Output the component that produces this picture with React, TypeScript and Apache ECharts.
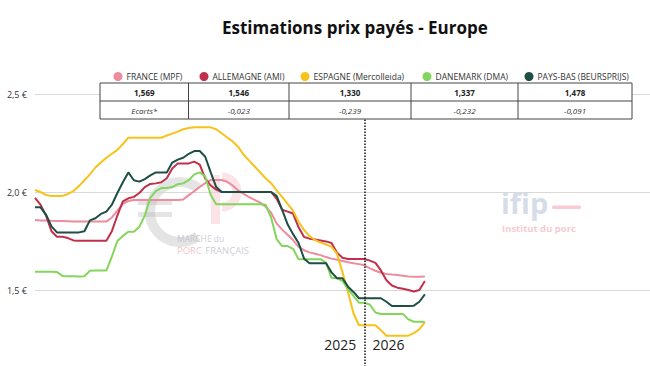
import React, { useEffect, useRef } from "react";
import * as echarts from "echarts";

const seriesNames = ["FRANCE (MPF)", "ALLEMAGNE (AMI)", "ESPAGNE (Mercolleida)", "DANEMARK (DMA)", "PAYS-BAS (BEURSPRIJS)"];
const seriesColors = ["#ec8c9d", "#c0304a", "#f7c21b", "#84d55c", "#1d4f45"];

const france = [1.857,1.855,1.855,1.853,1.852,1.852,1.851,1.85,1.849,1.849,1.849,1.849,1.849,1.849,1.87,1.905,1.94,1.954,1.959,1.959,1.959,1.959,1.959,1.959,1.959,1.959,1.959,1.962,1.984,2.004,2.026,2.045,2.061,2.061,2.061,2.052,2.033,2.008,1.99,1.974,1.96,1.946,1.925,1.895,1.84,1.808,1.782,1.755,1.72,1.703,1.692,1.685,1.678,1.668,1.66,1.654,1.648,1.642,1.636,1.632,1.626,1.61,1.598,1.588,1.582,1.579,1.577,1.573,1.569,1.568,1.568,1.569];
const allemagne = [1.97,1.935,1.88,1.80,1.772,1.772,1.765,1.753,1.751,1.751,1.751,1.751,1.751,1.751,1.80,1.88,1.952,1.968,1.975,1.995,2.025,2.041,2.044,2.05,2.07,2.12,2.146,2.146,2.146,2.155,2.14,2.07,2.033,2.012,2.0,2.0,2.0,2.0,2.0,2.0,2.0,2.0,2.0,2.0,1.965,1.91,1.90,1.89,1.82,1.77,1.762,1.758,1.753,1.748,1.74,1.69,1.665,1.658,1.658,1.658,1.658,1.65,1.638,1.60,1.55,1.523,1.512,1.506,1.50,1.492,1.50,1.546];
const espagne = [2.01,2.0,1.985,1.98,1.98,1.98,1.99,2.005,2.03,2.06,2.09,2.125,2.15,2.175,2.195,2.215,2.245,2.277,2.277,2.277,2.277,2.277,2.277,2.277,2.288,2.298,2.308,2.32,2.327,2.33,2.33,2.33,2.33,2.32,2.30,2.278,2.258,2.23,2.19,2.16,2.13,2.10,2.07,2.045,2.008,1.975,1.94,1.905,1.848,1.806,1.775,1.755,1.742,1.732,1.72,1.685,1.59,1.49,1.38,1.32,1.32,1.32,1.32,1.295,1.267,1.267,1.267,1.267,1.267,1.28,1.30,1.335];
const danemark = [1.593,1.593,1.593,1.593,1.592,1.572,1.57,1.57,1.569,1.57,1.598,1.599,1.599,1.599,1.67,1.75,1.776,1.797,1.797,1.822,1.88,1.97,2.005,2.02,2.02,2.025,2.04,2.044,2.06,2.09,2.10,2.08,1.985,1.937,1.937,1.937,1.937,1.937,1.937,1.937,1.937,1.937,1.935,1.87,1.76,1.724,1.724,1.71,1.657,1.657,1.657,1.657,1.657,1.64,1.562,1.56,1.545,1.505,1.47,1.435,1.435,1.425,1.385,1.378,1.378,1.378,1.378,1.378,1.35,1.338,1.338,1.337];
const paysBas = [1.922,1.922,1.885,1.825,1.794,1.794,1.794,1.794,1.794,1.80,1.855,1.866,1.888,1.90,1.935,1.995,2.05,2.10,2.06,2.053,2.066,2.085,2.10,2.10,2.10,2.15,2.165,2.175,2.195,2.209,2.209,2.18,2.10,2.025,2.0,2.0,2.0,2.0,2.0,2.0,2.0,2.0,2.0,2.0,1.98,1.91,1.835,1.785,1.74,1.66,1.636,1.636,1.636,1.636,1.59,1.56,1.56,1.517,1.49,1.458,1.458,1.458,1.458,1.458,1.44,1.418,1.418,1.418,1.418,1.42,1.44,1.478];

const tableValues = ["1,569", "1,546", "1,330", "1,337", "1,478"];
const tableEcarts = ["Ecarts*", "-0,023", "-0,239", "-0,232", "-0,091"];
const yearLabels = ["2025", "2026"];
const yearBoundaryWeek = 60;
const yearLabelWeeks = [55.6, 64.4];
const totalWeeks = 112;

const FONT = "'Open Sans', 'Noto Sans', sans-serif";

export default function App() {
  const ref = useRef<HTMLDivElement>(null);
  useEffect(() => {
    document.body.style.margin = "0";
    if (!ref.current) return;
    const chart = echarts.init(ref.current, null, { renderer: "svg" });
    const allSeries = [france, allemagne, espagne, danemark, paysBas];

    const colEdges = [100, 188.5, 289, 411, 518, 632];
    const tTop = 83, tMid = 101, tBot = 119;
    const graphics: any[] = [];
    const grayW = "rgba(185,185,185,0.38)";
    const pinkW = "rgba(240,140,160,0.24)";
    // watermark: Marché du Porc Français logo
    graphics.push(
      { type: "arc", z: 0, silent: true, shape: { cx: 180, cy: 212, r: 30, startAngle: Math.PI * 0.3, endAngle: Math.PI * 1.7, clockwise: true }, style: { stroke: grayW, lineWidth: 10, fill: "none" } },
      { type: "rect", z: 0, silent: true, shape: { x: 138, y: 200, width: 34, height: 5 }, style: { fill: grayW } },
      { type: "rect", z: 0, silent: true, shape: { x: 138, y: 212, width: 34, height: 5 }, style: { fill: grayW } },
      { type: "rect", z: 0, silent: true, shape: { x: 211, y: 175, width: 9, height: 49 }, style: { fill: pinkW } },
      { type: "arc", z: 0, silent: true, shape: { cx: 222, cy: 192, r: 15, startAngle: -Math.PI / 2, endAngle: Math.PI / 2, clockwise: true }, style: { stroke: pinkW, lineWidth: 9, fill: "none" } },
      { type: "text", left: 177, top: 234, z: 0, silent: true, style: { text: "MARCHE du", fontSize: 8.5, fontFamily: FONT, fill: "rgba(170,170,185,0.6)" } },
      { type: "text", left: 177, top: 244, z: 0, silent: true, style: { rich: { a: { fontSize: 9.5, fontFamily: FONT, fill: "rgba(240,150,170,0.6)" }, b: { fontSize: 9.5, fontFamily: FONT, fill: "rgba(170,170,185,0.6)" } }, text: "{a|PORC} {b|FRANÇAIS}" } }
    );
    // watermark: ifip
    graphics.push(
      { type: "text", left: 501, top: 188, z: 0, silent: true, style: { text: "ifip", fontSize: 29, fontFamily: FONT, fontWeight: "bold", fill: "#d6dde8" } },
      { type: "rect", z: 0, silent: true, shape: { x: 552, y: 205.5, width: 29, height: 3.5, r: 1.5 }, style: { fill: "#f6cbd4" } },
      { type: "text", left: 502, top: 223, z: 0, silent: true, style: { text: "Institut du porc", fontSize: 9.5, fontFamily: FONT, fontWeight: "bold", fill: "#f6cbd4" } }
    );
    // table
    graphics.push({ type: "rect", z: 100, shape: { x: colEdges[0], y: tTop, width: colEdges[5] - colEdges[0], height: tBot - tTop }, style: { fill: "#fff", stroke: "#444", lineWidth: 1 } });
    graphics.push({ type: "line", z: 101, shape: { x1: colEdges[0], y1: tMid, x2: colEdges[5], y2: tMid }, style: { stroke: "#444", lineWidth: 1 } });
    for (let i = 1; i < 5; i++) {
      graphics.push({ type: "line", z: 101, shape: { x1: colEdges[i], y1: tTop, x2: colEdges[i], y2: tBot }, style: { stroke: "#444", lineWidth: 1 } });
    }
    for (let i = 0; i < 5; i++) {
      const cx = (colEdges[i] + colEdges[i + 1]) / 2;
      graphics.push({ type: "text", z: 102, x: cx, y: (tTop + tMid) / 2, style: { text: tableValues[i], fontSize: 8, fontWeight: "bold", fontFamily: FONT, fill: "#222", align: "center", verticalAlign: "middle" } });
      graphics.push({ type: "text", z: 102, x: cx, y: (tMid + tBot) / 2, style: { text: tableEcarts[i], fontSize: 8, fontStyle: "italic", fontFamily: FONT, fill: "#333", align: "center", verticalAlign: "middle" } });
    }

    const legendCenters = [118, 204, 305, 427, 529];

    chart.setOption({
      animation: false,
      textStyle: { fontFamily: FONT },
      title: { text: "Estimations prix payés - Europe", left: 217, top: 14, textStyle: { fontSize: 17, fontWeight: "bold", color: "#111", fontFamily: FONT } },
      legend: seriesNames.map((n, i) => ({
        data: [n], left: legendCenters[i] - 4.5, top: 72, padding: 0, itemWidth: 9, itemHeight: 9, itemGap: 0,
        icon: "circle", selectedMode: false, textStyle: { fontSize: 8.5, color: "#333", fontFamily: FONT, padding: [0, 0, 0, -1] },
      })),
      grid: { left: 35, right: 0, top: 94, height: 294, outerBoundsMode: "none", containLabel: false },
      xAxis: { type: "value", min: 0, max: totalWeeks, show: false, splitLine: { show: false } },
      yAxis: {
        type: "value", min: 1, max: 2.5, interval: 0.5,
        axisLine: { show: false }, axisTick: { show: false },
        axisLabel: { margin: 8, fontSize: 9, color: "#333", formatter: (v: number) => (v < 1.5 ? "" : v.toFixed(1).replace(".", ",") + " €") },
        splitLine: { lineStyle: { color: "#d9d9d9", width: 1 } },
      },
      series: seriesNames.map((n, si) => ({
        name: n, type: "line", symbol: "none", color: seriesColors[si],
        lineStyle: { width: 2, color: seriesColors[si] },
        data: allSeries[si].map((v, i) => [i, v]),
        ...(si === 4 ? {
          markLine: {
            silent: true, symbol: "none", label: { show: false },
            lineStyle: { type: "dotted", color: "#111", width: 1.5 },
            data: [{ xAxis: yearBoundaryWeek }],
          },
          markPoint: {
            silent: true, symbol: "circle", symbolSize: 0,
            label: { show: true, position: "inside", fontSize: 14, color: "#222", fontFamily: FONT, formatter: (p: any) => p.name },
            data: yearLabels.map((y, k) => ({ name: y, coord: [yearLabelWeeks[k], 1.22] })),
          },
        } : {}),
      })),
      graphic: graphics,
    });
    return () => chart.dispose();
  }, []);
  return <div ref={ref} style={{ width: 650, height: 366 }} />;
}
